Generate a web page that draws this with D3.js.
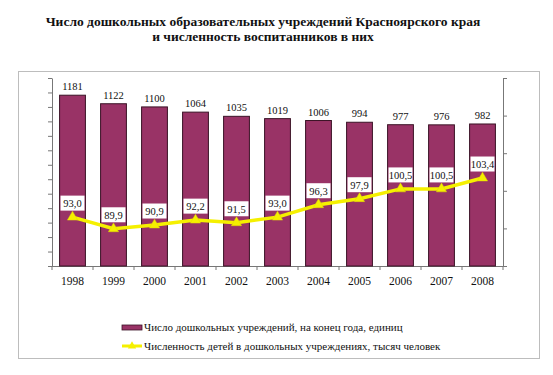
<!DOCTYPE html>
<html>
<head>
<meta charset="utf-8">
<script src="https://cdn.jsdelivr.net/npm/d3@7"></script>
<style>
  body { margin: 0; background: #fff; }
  svg text { font-family: "Liberation Serif", "Times New Roman", Tinos, "DejaVu Serif", serif; fill: #111; }
</style>
</head>
<body>
<div id="chart"></div>
<script>
// data
const years = ["1998", "1999", "2000", "2001", "2002", "2003", "2004", "2005", "2006", "2007", "2008"];
const institutions = [1181, 1122, 1100, 1064, 1035, 1019, 1006, 994, 977, 976, 982];
const children = [93.0, 89.9, 90.9, 92.2, 91.5, 93.0, 96.3, 97.9, 100.5, 100.5, 103.4];
const titleLines = [
  "Число дошкольных образовательных учреждений Красноярского края",
  "и численность воспитанников в них",
];
const legendLabels = [
  "Число дошкольных учреждений, на конец года, единиц",
  "Численность детей в дошкольных учреждениях, тысяч человек",
];

const width = 553, height = 375;
const margin = { top: 78, right: 50, bottom: 109, left: 52 };
const barColor = "#993366";
const lineColor = "#f5f000";
const fmt = (v) => v.toFixed(1).replace(".", ",");

const svg = d3
  .select("#chart")
  .append("svg")
  .attr("width", width)
  .attr("height", height);

// outer frame
svg
  .append("rect")
  .attr("x", 18.5)
  .attr("y", 71.5)
  .attr("width", 521)
  .attr("height", 287)
  .style("fill", "none")
  .style("stroke", "#bdbdbd");

// title
svg
  .selectAll(".title")
  .data(titleLines)
  .join("text")
  .attr("class", "title")
  .attr("x", 263)
  .attr("y", (d, i) => 26 + i * 15)
  .attr("text-anchor", "middle")
  .style("font-size", "13.5px")
  .style("font-weight", "bold")
  .text((d) => d);

// scales
const x = d3
  .scaleBand()
  .domain(years)
  .range([margin.left, width - margin.right])
  .paddingInner(0.37)
  .paddingOuter(0.185);

const yL = d3
  .scaleLinear()
  .domain([0, 1300])
  .range([height - margin.bottom, margin.top]);

const yR = d3
  .scaleLinear()
  .domain([80, 130])
  .range([height - margin.bottom, margin.top]);

const base = height - margin.bottom;

// left axis (no labels)
const leftAxis = svg
  .append("g")
  .attr("transform", `translate(${margin.left},0)`)
  .call(d3.axisLeft(yL).tickValues(d3.range(0, 1301, 100)).tickFormat("").tickSize(4).tickSizeOuter(0));

// right axis (no labels)
const rightAxis = svg
  .append("g")
  .attr("transform", `translate(${width - margin.right},0)`)
  .call(d3.axisRight(yR).tickValues(d3.range(80, 131, 10)).tickFormat("").tickSize(4).tickSizeOuter(0));

[leftAxis, rightAxis].forEach((g) => {
  g.select(".domain").style("stroke", "#777");
  g.selectAll(".tick line").style("stroke", "#777");
});

// bottom axis: ticks between categories
const step = x.step();
const boundaries = d3.range(years.length + 1).map((i) => margin.left + i * step);
svg
  .append("line")
  .attr("x1", margin.left)
  .attr("x2", width - margin.right)
  .attr("y1", base + 0.5)
  .attr("y2", base + 0.5)
  .style("stroke", "#777");
svg
  .append("g")
  .selectAll("line")
  .data(boundaries)
  .join("line")
  .attr("x1", (d) => d)
  .attr("x2", (d) => d)
  .attr("y1", base)
  .attr("y2", base + 4)
  .style("stroke", "#777");

svg
  .append("g")
  .selectAll("text")
  .data(years)
  .join("text")
  .attr("x", (d) => x(d) + x.bandwidth() / 2)
  .attr("y", base + 19)
  .attr("text-anchor", "middle")
  .style("font-size", "11.5px")
  .text((d) => d);

// bars
svg
  .append("g")
  .selectAll("rect")
  .data(institutions)
  .join("rect")
  .attr("x", (d, i) => x(years[i]))
  .attr("y", (d) => yL(d))
  .attr("width", x.bandwidth())
  .attr("height", (d) => base - yL(d))
  .style("fill", barColor)
  .style("stroke", "#3a1326")
  .style("stroke-width", 1);

// bar value labels
svg
  .append("g")
  .selectAll("text")
  .data(institutions)
  .join("text")
  .attr("x", (d, i) => x(years[i]) + x.bandwidth() / 2)
  .attr("y", (d) => yL(d) - 5)
  .attr("text-anchor", "middle")
  .style("font-size", "10.5px")
  .text((d) => d);

// line
const pts = children.map((v, i) => [x(years[i]) + x.bandwidth() / 2, yR(v)]);
svg
  .append("path")
  .datum(pts)
  .attr("d", d3.line())
  .style("fill", "none")
  .style("stroke", lineColor)
  .style("stroke-width", 3.5);

const tri = d3.symbol().type(d3.symbolTriangle).size(45);
svg
  .append("g")
  .selectAll("path")
  .data(pts)
  .join("path")
  .attr("transform", (d) => `translate(${d[0]},${d[1]})`)
  .attr("d", tri)
  .style("fill", lineColor)
  .style("stroke", "#e0d800")
  .style("stroke-width", 0.5);

// line value labels with white boxes
const lbl = svg
  .append("g")
  .selectAll("g")
  .data(children)
  .join("g")
  .attr("transform", (d, i) => `translate(${pts[i][0]},${pts[i][1] - 14})`);
lbl
  .append("rect")
  .attr("x", -12)
  .attr("y", -7.5)
  .attr("width", 24)
  .attr("height", 15)
  .style("fill", "#fff");
lbl
  .append("text")
  .attr("y", 4)
  .attr("text-anchor", "middle")
  .style("font-size", "10.5px")
  .text((d) => fmt(d));

// legend
const lg = svg.append("g");
lg.append("rect")
  .attr("x", 122)
  .attr("y", 325)
  .attr("width", 20)
  .attr("height", 5)
  .style("fill", barColor)
  .style("stroke", "#3a1326")
  .style("stroke-width", 0.8);
lg.append("line")
  .attr("x1", 122)
  .attr("x2", 142)
  .attr("y1", 346)
  .attr("y2", 346)
  .style("stroke", lineColor)
  .style("stroke-width", 3);
lg.append("path")
  .attr("transform", "translate(132,346)")
  .attr("d", d3.symbol().type(d3.symbolTriangle).size(30))
  .style("fill", lineColor);
lg.selectAll("text")
  .data(legendLabels)
  .join("text")
  .attr("x", 144)
  .attr("y", (d, i) => 331 + i * 19)
  .style("font-size", "11px")
  .text((d) => d);
</script>
</body>
</html>
